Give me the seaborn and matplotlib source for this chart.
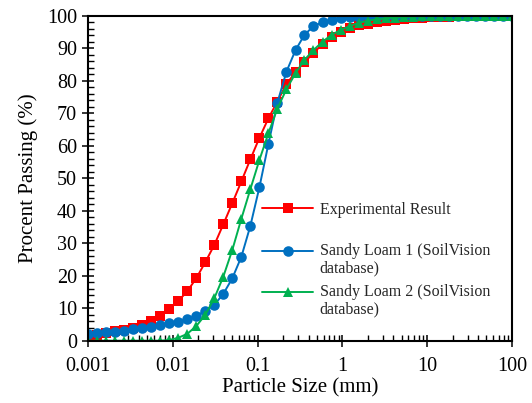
import numpy as np
import pandas as pd
import matplotlib
matplotlib.use("Agg")
import matplotlib.pyplot as plt
import seaborn as sns
from matplotlib.ticker import FixedLocator, LogLocator, MultipleLocator, NullFormatter
from matplotlib.legend_handler import HandlerLine2D

# ---- data ----
particle_size = [0.001, 0.00128, 0.00163, 0.00209, 0.00266, 0.0034, 0.00435, 0.00555,
                 0.00709, 0.00906, 0.0116, 0.0148, 0.0189, 0.0241, 0.0308, 0.0394,
                 0.0503, 0.0643, 0.0821, 0.105, 0.134, 0.171, 0.219, 0.28,
                 0.357, 0.456, 0.583, 0.745, 0.951, 1.22, 1.55, 1.98,
                 2.54, 3.24, 4.14, 5.28, 6.75, 8.62, 11.0, 14.1,
                 18.0, 23.0, 29.4, 37.5, 47.9, 61.2, 78.2, 100.0]

experimental = [1.5, 1.9, 2.4, 2.9, 3.4, 4.0, 4.8, 6.0, 7.6, 9.8, 12.2, 15.2,
                19.2, 24.1, 29.4, 35.8, 42.3, 49.0, 55.8, 62.4, 68.4, 73.6, 79.0, 82.6,
                85.8, 88.4, 91.4, 93.4, 94.9, 96.1, 97.0, 97.6, 98.1, 98.5, 98.8, 99.0,
                99.2, 99.3, 99.5, 99.6, 99.7, 99.8, 99.8, 99.9, 99.9, 100.0, 100.0, 100.0]

sandy_loam_1 = [2.1, 2.3, 2.6, 2.8, 3.1, 3.5, 3.9, 4.3, 4.8, 5.4, 5.8, 6.6,
                7.6, 9.2, 11.0, 14.4, 19.2, 25.8, 35.3, 47.2, 60.5, 73.2, 82.8, 89.4,
                94.1, 96.8, 98.0, 98.7, 99.2, 99.5, 99.7, 99.8, 99.9, 100.0, 100.0, 100.0,
                100.0, 100.0, 100.0, 100.0, 100.0, 100.0, 100.0, 100.0, 100.0, 100.0, 100.0, 100.0]

sandy_loam_2 = [0.0, 0.0, 0.0, 0.0, 0.0, 0.0, 0.0, 0.0, 0.0, 0.2, 0.9, 2.1,
                4.5, 7.9, 13.0, 19.7, 27.9, 37.5, 46.6, 55.6, 63.8, 71.4, 77.4, 82.3,
                86.4, 89.4, 92.0, 94.1, 95.6, 96.8, 97.8, 98.4, 98.9, 99.2, 99.4, 99.6,
                99.7, 99.8, 99.9, 100.0, 100.0, 100.0, 100.0, 100.0, 100.0, 100.0, 100.0, 100.0]

series_labels = ["Experimental Result",
                 "Sandy Loam 1 (SoilVision\ndatabase)",
                 "Sandy Loam 2 (SoilVision\ndatabase)"]
x_tick_values = [0.001, 0.01, 0.1, 1, 10, 100]
x_tick_labels = ["0.001", "0.01", "0.1", "1", "10", "100"]
y_tick_values = [0, 10, 20, 30, 40, 50, 60, 70, 80, 90, 100]

# ---- style ----
sns.set_style("white")
plt.rcParams["font.family"] = ["Liberation Serif", "DejaVu Serif"]

W, H = 532, 403
fig = plt.figure(figsize=(W / 100, H / 100), dpi=100)
ax = fig.add_axes([88 / W, 1 - 340.7 / H, (512 - 88) / W, (340.7 - 15.7) / H])

df = pd.DataFrame({"size": particle_size, "exp": experimental,
                   "sl1": sandy_loam_1, "sl2": sandy_loam_2})

colors = ["#FF0000", "#0070C0", "#00B050"]
markers = ["s", "o", "^"]
msizes = [6.6, 7.6, 7.2]
for col, lab, c, m, ms in zip(["exp", "sl1", "sl2"], series_labels, colors, markers, msizes):
    sns.lineplot(data=df, x="size", y=col, ax=ax, color=c, marker=m,
                 markersize=ms, markeredgewidth=0, linewidth=1.4,
                 label=lab, legend=False, sort=False)

ax.set_xscale("log")
ax.set_xlim(0.001, 100)
ax.set_ylim(0, 100)
ax.xaxis.set_major_locator(FixedLocator(x_tick_values))
ax.set_xticklabels(x_tick_labels)
ax.xaxis.set_minor_locator(LogLocator(base=10, subs=np.arange(2, 10)))
ax.xaxis.set_minor_formatter(NullFormatter())
ax.set_yticks(y_tick_values)
ax.yaxis.set_minor_locator(MultipleLocator(2))

ax.tick_params(axis="both", which="major", direction="inout", length=8, width=1.1,
               color="black", labelsize=14.5, labelcolor="black",
               bottom=True, left=True, top=False, right=False)
ax.tick_params(axis="x", which="major", pad=8)
ax.tick_params(axis="y", which="major", pad=4)
ax.tick_params(axis="both", which="minor", direction="in", length=4, width=1.0,
               color="black", bottom=True, left=True, top=False, right=False)

for s in ["left", "bottom", "top", "right"]:
    ax.spines[s].set_visible(True)
    ax.spines[s].set_color("black")
    ax.spines[s].set_linewidth(1.5)

ax.set_xlabel("Particle Size (mm)", fontsize=15, color="black", labelpad=1.5)
ax.set_ylabel("Procent Passing (%)", fontsize=15, color="black", labelpad=6)


class UpperLineHandler(HandlerLine2D):
    def __init__(self, shift, **kw):
        super().__init__(**kw)
        self.shift = shift

    def create_artists(self, legend, orig_handle, xdescent, ydescent, width, height,
                       fontsize, trans):
        arts = super().create_artists(legend, orig_handle, xdescent, ydescent, width,
                                      height, fontsize, trans)
        for a in arts:
            a.set_ydata(np.asarray(a.get_ydata(), float) + self.shift * fontsize)
        return arts


lines = ax.lines[:3]
leg_kw = dict(frameon=False, fontsize=11.5, handlelength=3.2, handletextpad=0.4,
              borderpad=0, borderaxespad=0, bbox_transform=fig.transFigure)
leg1 = ax.legend([lines[0]], [series_labels[0]], loc="center left",
                 bbox_to_anchor=(262 / W, 1 - 209.5 / H), **leg_kw)
ax.add_artist(leg1)
leg2 = ax.legend(lines[1:], series_labels[1:], loc="upper left",
                 bbox_to_anchor=(262 / W, 1 - 243 / H), labelspacing=0.5,
                 handler_map={lines[1]: UpperLineHandler(0.6), lines[2]: UpperLineHandler(0.6)},
                 **leg_kw)
for t in leg2.get_texts():
    t.set_linespacing(1.12)

fig.savefig("out.png", dpi=100)
